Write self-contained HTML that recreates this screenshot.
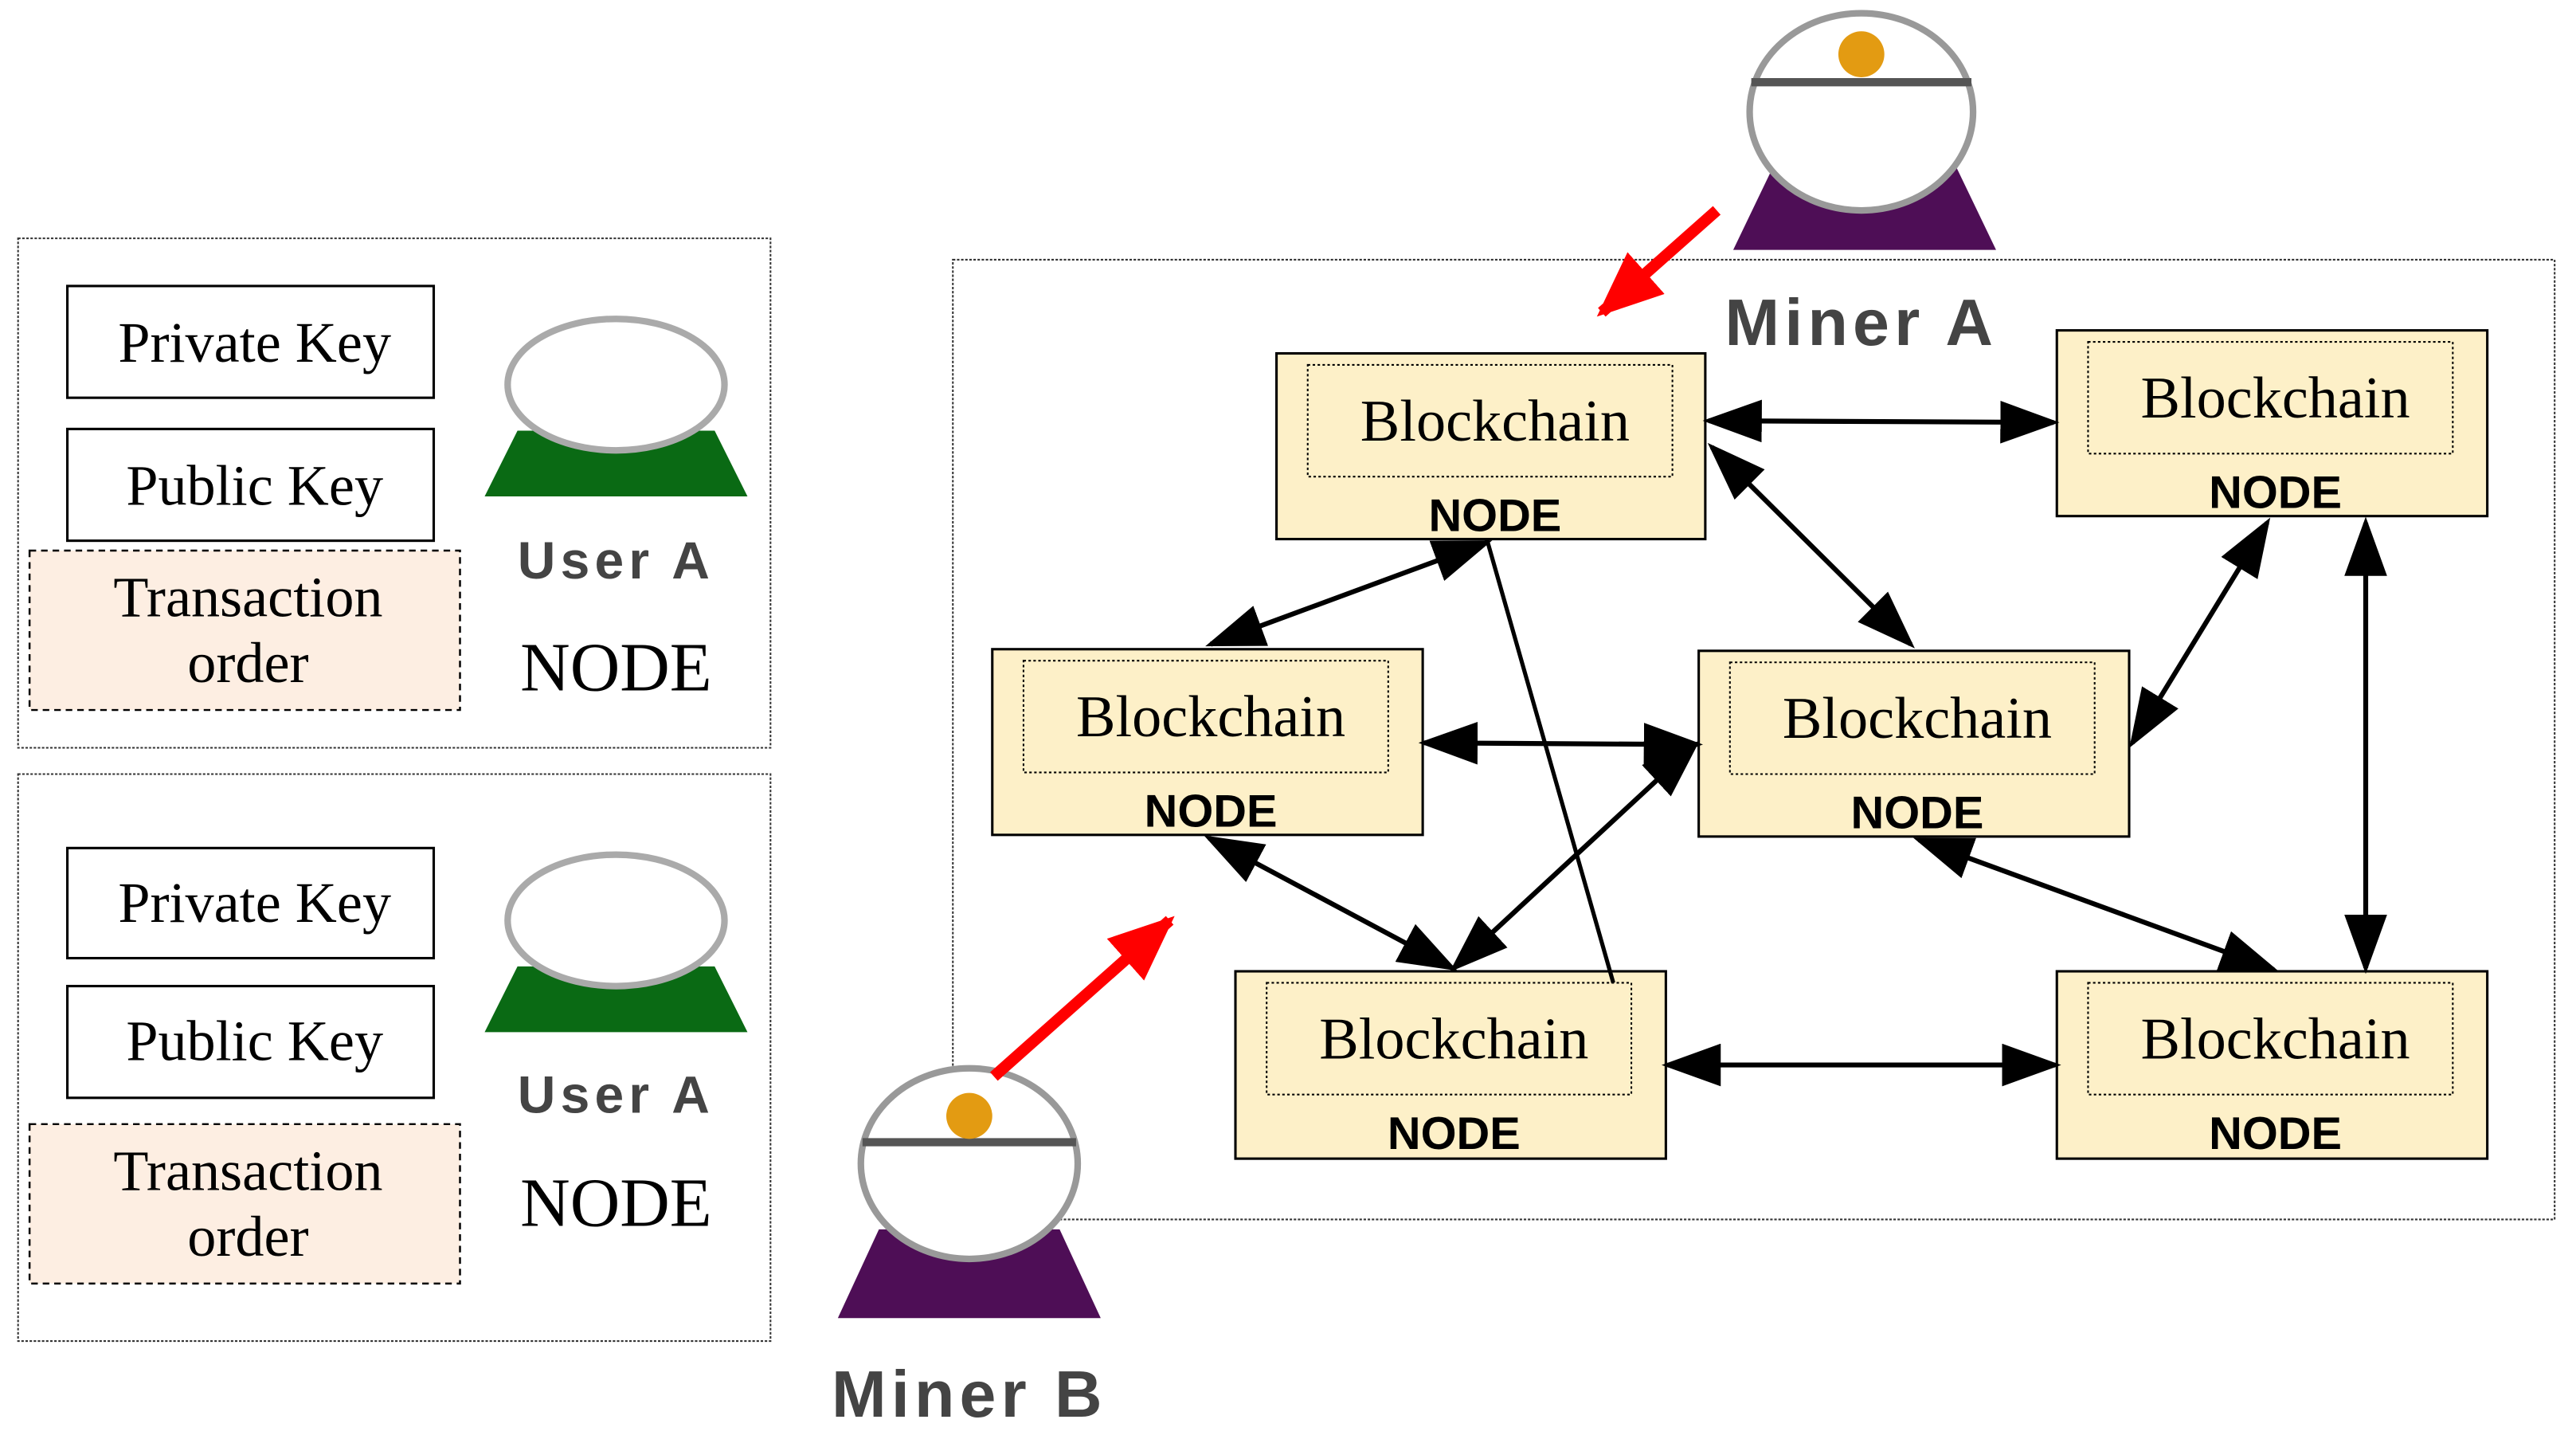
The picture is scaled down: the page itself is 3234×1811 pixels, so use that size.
<!DOCTYPE html>
<html><head><style>html,body{margin:0;padding:0;background:#fff}svg{display:block}</style></head><body>
<svg width="3234" height="1811" viewBox="0 0 1568 878" xmlns="http://www.w3.org/2000/svg">
<defs>
<marker id="ab" viewBox="0 0 10 10" refX="9" refY="5" markerWidth="36" markerHeight="26" orient="auto-start-reverse" markerUnits="userSpaceOnUse" preserveAspectRatio="none"><path d="M0,0L10,5L0,10z" fill="#000"/></marker>
<marker id="r" viewBox="0 0 10 10" refX="9" refY="5" markerWidth="40" markerHeight="34" orient="auto" markerUnits="userSpaceOnUse" preserveAspectRatio="none"><path d="M0,0L10,5L0,10z" fill="#f00"/></marker>
</defs>
<g font-family="Liberation Serif, serif" fill="#000">
<rect x="11" y="145" width="458" height="310" fill="none" stroke="#333" stroke-width="1" stroke-dasharray="1.5,1"/>
<rect x="11" y="471" width="458" height="345" fill="none" stroke="#333" stroke-width="1" stroke-dasharray="1.5,1"/>
<g font-size="35" text-anchor="middle">
<rect x="41" y="174" width="223" height="68" fill="#fff" stroke="#000" stroke-width="1.5"/><text x="155" y="220">Private Key</text>
<rect x="41" y="261" width="223" height="68" fill="#fff" stroke="#000" stroke-width="1.5"/><text x="155" y="307">Public Key</text>
<rect x="18" y="335" width="262" height="97" fill="#fdeee2" stroke="#000" stroke-width="1.2" stroke-dasharray="4,3"/><text x="151" y="375">Transaction</text><text x="151" y="415">order</text>
<rect x="41" y="516" width="223" height="67" fill="#fff" stroke="#000" stroke-width="1.5"/><text x="155" y="561">Private Key</text>
<rect x="41" y="600" width="223" height="68" fill="#fff" stroke="#000" stroke-width="1.5"/><text x="155" y="645">Public Key</text>
<rect x="18" y="684" width="262" height="97" fill="#fdeee2" stroke="#000" stroke-width="1.2" stroke-dasharray="4,3"/><text x="151" y="724">Transaction</text><text x="151" y="764">order</text>
<text x="375" y="420" font-size="42">NODE</text>
<text x="375" y="746" font-size="42">NODE</text>
</g>
<g>
<path d="M315,262 L435,262 L455,302 L295,302Z" fill="#0a6a14"/>
<ellipse cx="375" cy="234" rx="66" ry="40" fill="#fff" stroke="#aaa" stroke-width="4"/>
<text x="375" y="352" font-family="Liberation Sans, sans-serif" font-weight="bold" font-size="32" text-anchor="middle" fill="#444" letter-spacing="3">User A</text>
<path d="M315,588 L435,588 L455,628 L295,628Z" fill="#0a6a14"/>
<ellipse cx="375" cy="560" rx="66" ry="40" fill="#fff" stroke="#aaa" stroke-width="4"/>
<text x="375" y="677" font-family="Liberation Sans, sans-serif" font-weight="bold" font-size="32" text-anchor="middle" fill="#444" letter-spacing="3">User A</text>
</g>
<rect x="580" y="158" width="975" height="584" fill="none" stroke="#333" stroke-width="1" stroke-dasharray="1.5,1"/>
<path d="M1080,100 L1190,100 L1215,152 L1055,152Z" fill="#4e0e56"/>
<ellipse cx="1133" cy="68" rx="68" ry="60" fill="#fff" stroke="#999" stroke-width="4"/>
<line x1="1066" y1="50" x2="1200" y2="50" stroke="#555" stroke-width="5"/>
<circle cx="1133" cy="33" r="14" fill="#e39b12"/>
<text x="1133" y="210" font-family="Liberation Sans, sans-serif" font-weight="bold" font-size="40" text-anchor="middle" fill="#444" letter-spacing="3">Miner A</text>
<path d="M535,748 L645,748 L670,802 L510,802Z" fill="#4e0e56"/>
<ellipse cx="590" cy="708" rx="66" ry="58" fill="#fff" stroke="#999" stroke-width="4"/>
<line x1="525" y1="695" x2="655" y2="695" stroke="#555" stroke-width="5"/>
<circle cx="590" cy="679" r="14" fill="#e39b12"/>
<text x="590" y="862" font-family="Liberation Sans, sans-serif" font-weight="bold" font-size="40" text-anchor="middle" fill="#444" letter-spacing="3">Miner B</text>
<g font-size="36" text-anchor="middle">
<g transform="translate(777,215)"><rect width="261" height="113" fill="#fdf0c8" stroke="#000" stroke-width="1.5"/><rect x="19" y="7" width="222" height="68" fill="none" stroke="#000" stroke-width="1" stroke-dasharray="1.5,1.5"/><text x="133" y="53">Blockchain</text><text x="133" y="108" font-family="Liberation Sans, sans-serif" font-weight="bold" font-size="28">NODE</text></g>
<g transform="translate(1252,201)"><rect width="262" height="113" fill="#fdf0c8" stroke="#000" stroke-width="1.5"/><rect x="19" y="7" width="222" height="68" fill="none" stroke="#000" stroke-width="1" stroke-dasharray="1.5,1.5"/><text x="133" y="53">Blockchain</text><text x="133" y="108" font-family="Liberation Sans, sans-serif" font-weight="bold" font-size="28">NODE</text></g>
<g transform="translate(604,395)"><rect width="262" height="113" fill="#fdf0c8" stroke="#000" stroke-width="1.5"/><rect x="19" y="7" width="222" height="68" fill="none" stroke="#000" stroke-width="1" stroke-dasharray="1.5,1.5"/><text x="133" y="53">Blockchain</text><text x="133" y="108" font-family="Liberation Sans, sans-serif" font-weight="bold" font-size="28">NODE</text></g>
<g transform="translate(1034,396)"><rect width="262" height="113" fill="#fdf0c8" stroke="#000" stroke-width="1.5"/><rect x="19" y="7" width="222" height="68" fill="none" stroke="#000" stroke-width="1" stroke-dasharray="1.5,1.5"/><text x="133" y="53">Blockchain</text><text x="133" y="108" font-family="Liberation Sans, sans-serif" font-weight="bold" font-size="28">NODE</text></g>
<g transform="translate(752,591)"><rect width="262" height="114" fill="#fdf0c8" stroke="#000" stroke-width="1.5"/><rect x="19" y="7" width="222" height="68" fill="none" stroke="#000" stroke-width="1" stroke-dasharray="1.5,1.5"/><text x="133" y="53">Blockchain</text><text x="133" y="108" font-family="Liberation Sans, sans-serif" font-weight="bold" font-size="28">NODE</text></g>
<g transform="translate(1252,591)"><rect width="262" height="114" fill="#fdf0c8" stroke="#000" stroke-width="1.5"/><rect x="19" y="7" width="222" height="68" fill="none" stroke="#000" stroke-width="1" stroke-dasharray="1.5,1.5"/><text x="133" y="53">Blockchain</text><text x="133" y="108" font-family="Liberation Sans, sans-serif" font-weight="bold" font-size="28">NODE</text></g>
</g>
<g stroke="#000" stroke-width="3" fill="none" marker-start="url(#ab)" marker-end="url(#ab)">
<line x1="1040" y1="256" x2="1250" y2="257"/>
<line x1="1042" y1="272" x2="1163" y2="392"/>
<line x1="737" y1="392" x2="905" y2="330"/>
<line x1="867" y1="452" x2="1033" y2="453"/>
<line x1="1298" y1="452" x2="1380" y2="318"/>
<line x1="1440" y1="318" x2="1440" y2="589"/>
<line x1="736" y1="510" x2="884" y2="589"/>
<line x1="885" y1="589" x2="1032" y2="453"/>
<line x1="1168" y1="511" x2="1384" y2="590"/>
<line x1="1015" y1="648" x2="1251" y2="648"/>
</g>
<line x1="905" y1="328" x2="982" y2="598" stroke="#000" stroke-width="2.5"/>
<line x1="1045" y1="128" x2="975" y2="190" stroke="#f00" stroke-width="7" marker-end="url(#r)"/>
<line x1="605" y1="655" x2="712" y2="560" stroke="#f00" stroke-width="7" marker-end="url(#r)"/>
</g>
</svg>
</body></html>
